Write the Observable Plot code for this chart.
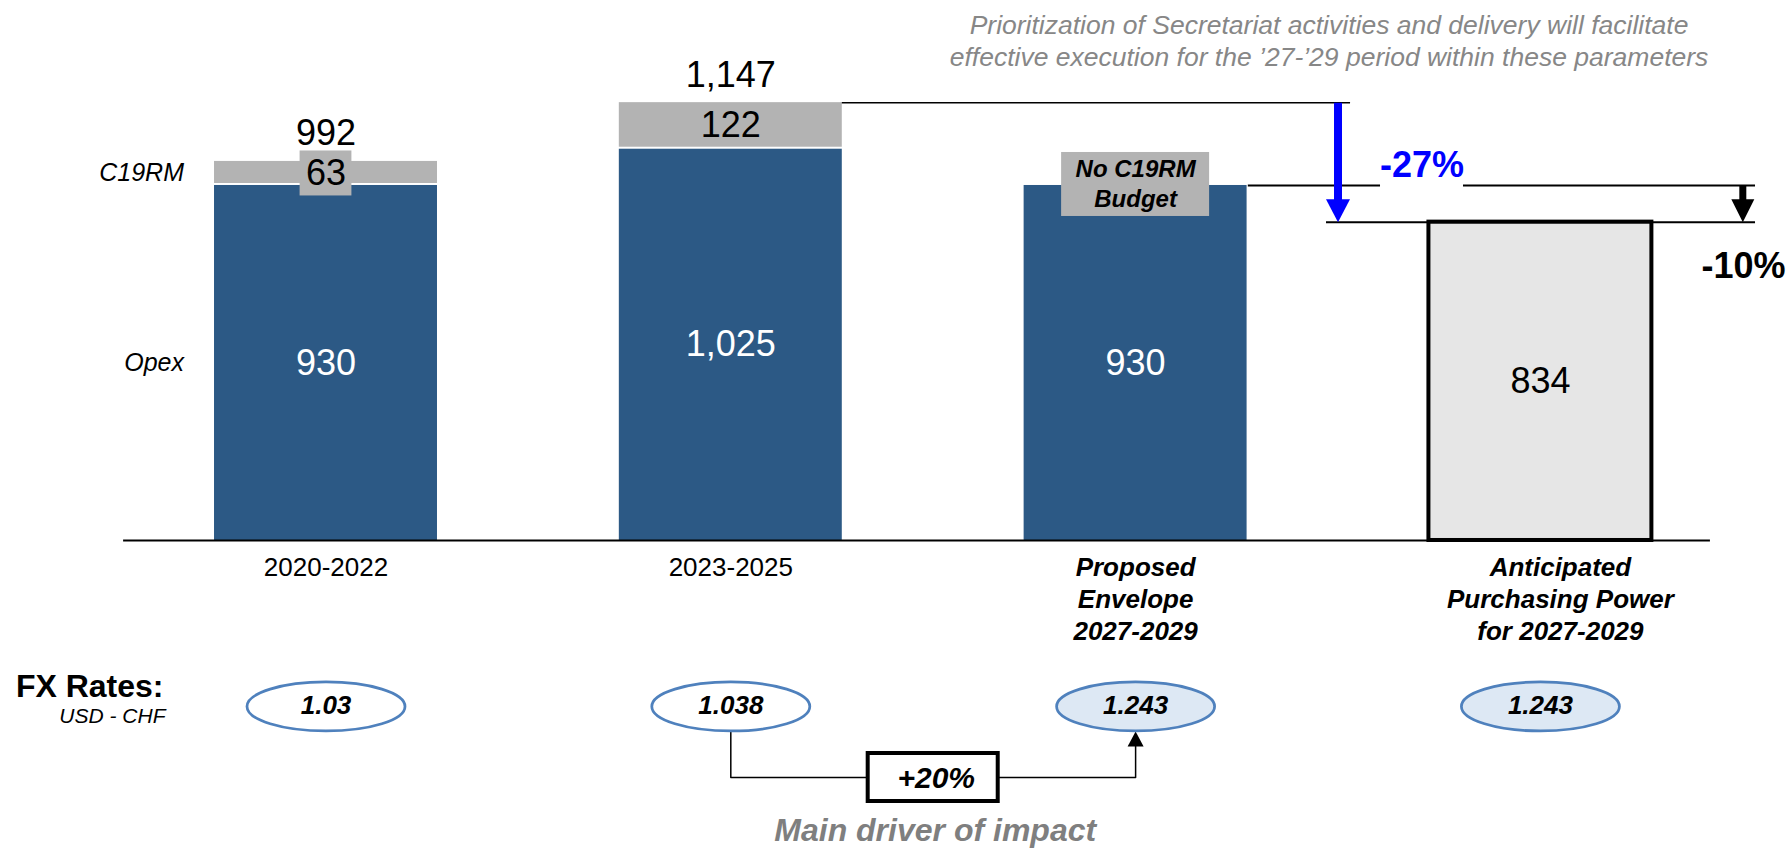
<!DOCTYPE html>
<html><head><meta charset="utf-8">
<script src="https://cdn.jsdelivr.net/npm/d3@7"></script>
<script src="https://cdn.jsdelivr.net/npm/@observablehq/plot@0.6"></script>
<style>html,body{margin:0;padding:0;background:#fff;} #chart svg{display:block}</style>
</head><body><div id="chart"></div>
<script>
// ---------------- data ----------------
const categories = ["2020-2022", "2023-2025", "Proposed\nEnvelope\n2027-2029", "Anticipated\nPurchasing Power\nfor 2027-2029"];
const opex = [930, 1025, 930, null];
const c19rm = [63, 122, null, null];
const totals = [992, 1147, null, null];
const purchasingPower = [null, null, null, 834];
const fxRates = ["1.03", "1.038", "1.243", "1.243"];
const fxProjected = [false, false, true, true];
const seriesLabels = ["Opex", "C19RM"];
const noC19Label = "No C19RM\nBudget";
const reductionTotal = "-27%";
const reductionEnvelope = "-10%";
const fxChange = "+20%";
const fxTitle = "FX Rates:";
const fxSubtitle = "USD - CHF";
const driverLabel = "Main driver of impact";
const noteText = "Prioritization of Secretariat activities and delivery will facilitate\neffective execution for the \u201927-\u201929 period within these parameters";

// ---------------- styles ----------------
const W = 1787, H = 848;
const BLUE = "#2c5985", GREY = "#b3b3b3", LIGHT = "#e6e6e6";
const ELL_STROKE = "#4f81bd", ELL_FILL = "#dde8f4";
const FONT = "'Liberation Sans', Arial, Helvetica, sans-serif";
const xDomain = [-0.8041, 3.6104];
const yDomain = [-806.9, 1414.6];
const hw = 0.2754; // half bar width in category units

const rows = categories.map((c, i) => ({
  i, c, opex: opex[i], c19: c19rm[i], total: totals[i], pp: purchasingPower[i],
  fx: fxRates[i], proj: fxProjected[i]
}));
const fmt = d3.format(",");
const Y = Plot.scale({y: {domain: yDomain, range: [H, 0]}});
const yAt = p => Y.invert(p);
const yOff = (v, dp) => Y.invert(Y.apply(v) + dp);

// symbols
function ellipseSymbol(rx, ry) {
  const k = 0.5522847;
  return {draw(ctx) {
    ctx.moveTo(rx, 0);
    ctx.bezierCurveTo(rx, ry * k, rx * k, ry, 0, ry);
    ctx.bezierCurveTo(-rx * k, ry, -rx, ry * k, -rx, 0);
    ctx.bezierCurveTo(-rx, -ry * k, -rx * k, -ry, 0, -ry);
    ctx.bezierCurveTo(rx * k, -ry, rx, -ry * k, rx, 0);
    ctx.closePath();
  }};
}
function downHead(w, h) { return {draw(ctx) { ctx.moveTo(0, 0); ctx.lineTo(-w / 2, -h); ctx.lineTo(w / 2, -h); ctx.closePath(); }}; }
function upHead(w, h) { return {draw(ctx) { ctx.moveTo(0, 0); ctx.lineTo(-w / 2, h); ctx.lineTo(w / 2, h); ctx.closePath(); }}; }

const withOpex = rows.filter(d => d.opex != null);
const withC19 = rows.filter(d => d.c19 != null);
const noC19 = rows.filter(d => d.opex != null && d.c19 == null);
const withPP = rows.filter(d => d.pp != null);
const thinSeg = withC19.filter(d => Y.apply(d.opex) - Y.apply(d.opex + d.c19) < 40);

const i2 = 1, i3 = 2, i4 = 3; // 2023-2025, proposed, anticipated
const gapL = 2.605, gapR = 2.81;
const lineEnd = 3.5314;

const chart = Plot.plot({
  width: W, height: H,
  marginTop: 0, marginRight: 0, marginBottom: 0, marginLeft: 0,
  x: {domain: xDomain, axis: null},
  y: {domain: yDomain, axis: null},
  style: {fontFamily: FONT, background: "white", overflow: "visible"},
  marks: [
    // bars
    Plot.rect(withOpex, {x1: d => d.i - hw, x2: d => d.i + hw, y1: () => 0, y2: "opex", fill: BLUE}),
    Plot.rect(withC19, {x1: d => d.i - hw, x2: d => d.i + hw, y1: "opex", y2: d => d.opex + d.c19, fill: GREY, insetBottom: 2}),
    Plot.rect(withPP, {x1: d => d.i - hw, x2: d => d.i + hw, y1: () => 0, y2: "pp", fill: LIGHT, stroke: "black", strokeWidth: 4}),
    // baseline
    Plot.ruleY([0], {x1: -0.5, x2: 3.42, stroke: "black", strokeWidth: 2}),
    // label box for thin C19RM segment
    Plot.rect(thinSeg, {x1: d => d.i - 0.064, x2: d => d.i + 0.064,
      y1: d => yOff(d.opex + d.c19 / 2, 22.5), y2: d => yOff(d.opex + d.c19 / 2, -22.5), fill: GREY}),
    // "No C19RM Budget" box
    Plot.rect(noC19, {x1: d => d.i - 0.1828, x2: d => d.i + 0.1828,
      y1: d => yOff(d.opex, 31), y2: d => yOff(d.opex, -33), fill: GREY}),
    Plot.text(noC19, {x: "i", y: "opex", text: () => noC19Label, dy: -3, fontSize: 24, fontWeight: "bold", fontStyle: "italic", lineHeight: 1.25, fill: "black"}),
    // value labels
    Plot.text(withOpex, {x: "i", y: d => d.opex / 2, text: d => fmt(d.opex), fill: "white", fontSize: 36}),
    Plot.text(withC19, {x: "i", y: d => d.opex + d.c19 / 2, text: d => fmt(d.c19), fill: "black", fontSize: 36}),
    Plot.text(withC19, {x: "i", y: d => d.opex + d.c19, text: d => fmt(d.total), lineAnchor: "bottom", dy: -16, fill: "black", fontSize: 36}),
    Plot.text(withPP, {x: "i", y: d => d.pp / 2, text: d => fmt(d.pp), fill: "black", fontSize: 36}),
    // series labels
    Plot.text(seriesLabels, {x: () => 0, y: (d) => d === "Opex" ? opex[0] / 2 : opex[0] + c19rm[0] / 2, text: d => d,
      textAnchor: "end", dx: -142, fontStyle: "italic", fontSize: 25, fill: "black"}),
    // annotation lines
    Plot.ruleY([totals[i2]], {x1: i2 + hw, x2: 2.531, stroke: "black", strokeWidth: 1.5}),
    Plot.ruleY([purchasingPower[i4]], {x1: 2.4716, x2: lineEnd, stroke: "black", strokeWidth: 2}),
    Plot.ruleY([{a: i3 + hw + 0.003, b: gapL}, {a: gapR, b: lineEnd}], {y: () => opex[i3], x1: "a", x2: "b", stroke: "black", strokeWidth: 2}),
    // blue arrow (-27%)
    Plot.link([0], {x1: () => 2.5, x2: () => 2.5, y1: () => totals[i2], y2: () => yOff(purchasingPower[i4], -22), stroke: "#0000ff", strokeWidth: 8}),
    Plot.dot([0], {x: () => 2.5, y: () => purchasingPower[i4], symbol: downHead(24, 23), fill: "#0000ff", stroke: "none"}),
    Plot.text([reductionTotal], {x: () => (gapL + gapR) / 2, y: () => opex[i3], text: d => d, lineAnchor: "bottom", dy: -8,
      fill: "#0000ff", fontWeight: "bold", fontSize: 36}),
    // black arrow (-10%)
    Plot.link([0], {x1: () => 3.5, x2: () => 3.5, y1: () => opex[i3], y2: () => yOff(purchasingPower[i4], -22), stroke: "black", strokeWidth: 7}),
    Plot.dot([0], {x: () => 3.5, y: () => purchasingPower[i4], symbol: downHead(23, 23), fill: "black", stroke: "none"}),
    Plot.text([reductionEnvelope], {x: () => 3.5017, y: () => purchasingPower[i4], text: d => d, lineAnchor: "bottom", dy: 56,
      fill: "black", fontWeight: "bold", fontSize: 36}),
    // category labels
    Plot.text(rows.slice(0, 2), {x: "i", y: () => 0, text: "c", lineAnchor: "top", dy: 13, lineHeight: 1.23, fontSize: 26, fill: "black"}),
    Plot.text(rows.slice(2, 3), {x: "i", y: () => 0, text: "c", lineAnchor: "top", dy: 13, lineHeight: 1.23, fontSize: 26, fontWeight: "bold", fontStyle: "italic", fill: "black"}),
    Plot.text(rows.slice(3, 4), {x: "i", y: () => 0, text: "c", lineAnchor: "top", dy: 13, dx: 20, lineHeight: 1.23, fontSize: 26, fontWeight: "bold", fontStyle: "italic", fill: "black"}),
    // top note
    Plot.text([noteText], {x: () => 2.5, frameAnchor: "top", text: d => d, lineAnchor: "top", dx: -9, dy: 11.5, lineHeight: 1.19,
      fontSize: 26.5, fontStyle: "italic", fill: "#878787"}),
    // FX row
    Plot.text([fxTitle], {x: () => 0, y: () => 0, text: d => d, textAnchor: "end", lineAnchor: "bottom", dx: -162.5, dy: 157, fontWeight: "bold", fontSize: 32, fill: "black"}),
    Plot.text([fxSubtitle], {x: () => 0, y: () => 0, text: d => d, textAnchor: "end", lineAnchor: "bottom", dx: -160.5, dy: 183, fontStyle: "italic", fontSize: 21, fill: "black"}),
    Plot.line([{x: i2, y: yAt(731)}, {x: i2, y: yAt(777)}, {x: i3, y: yAt(777)}, {x: i3, y: yAt(745)}], {x: "x", y: "y", stroke: "black", strokeWidth: 1.5}),
    Plot.dot([0], {x: () => i3, y: () => yAt(731), symbol: upHead(16, 15), fill: "black", stroke: "none"}),
    Plot.dot(rows.filter(d => !d.proj), {x: "i", y: () => 0, dy: 166, symbol: ellipseSymbol(79, 24.5), fill: "white", stroke: ELL_STROKE, strokeWidth: 2.75}),
    Plot.dot(rows.filter(d => d.proj), {x: "i", y: () => 0, dy: 166, symbol: ellipseSymbol(79, 24.5), fill: ELL_FILL, stroke: ELL_STROKE, strokeWidth: 2.75}),
    Plot.text(rows, {x: "i", y: () => 0, dy: 165, text: "fx", fontWeight: "bold", fontStyle: "italic", fontSize: 26, fill: "black"}),
    Plot.rect([0], {x1: () => 1.5 - 0.1606, x2: () => 1.5 + 0.1606, y1: () => yAt(801), y2: () => yAt(753), fill: "white", stroke: "black", strokeWidth: 4}),
    Plot.text([fxChange], {x: () => 1.5, y: () => yAt(777), text: d => d, dx: 3, dy: 1, fontWeight: "bold", fontStyle: "italic", fontSize: 30, fill: "black"}),
    Plot.text([driverLabel], {x: () => 1.5, y: () => yAt(840), text: d => d, dx: 2, lineAnchor: "bottom", fontWeight: "bold", fontStyle: "italic", fontSize: 32, fill: "#7f7f7f"})
  ]
});
document.getElementById("chart").appendChild(chart);
</script>
</body></html>
